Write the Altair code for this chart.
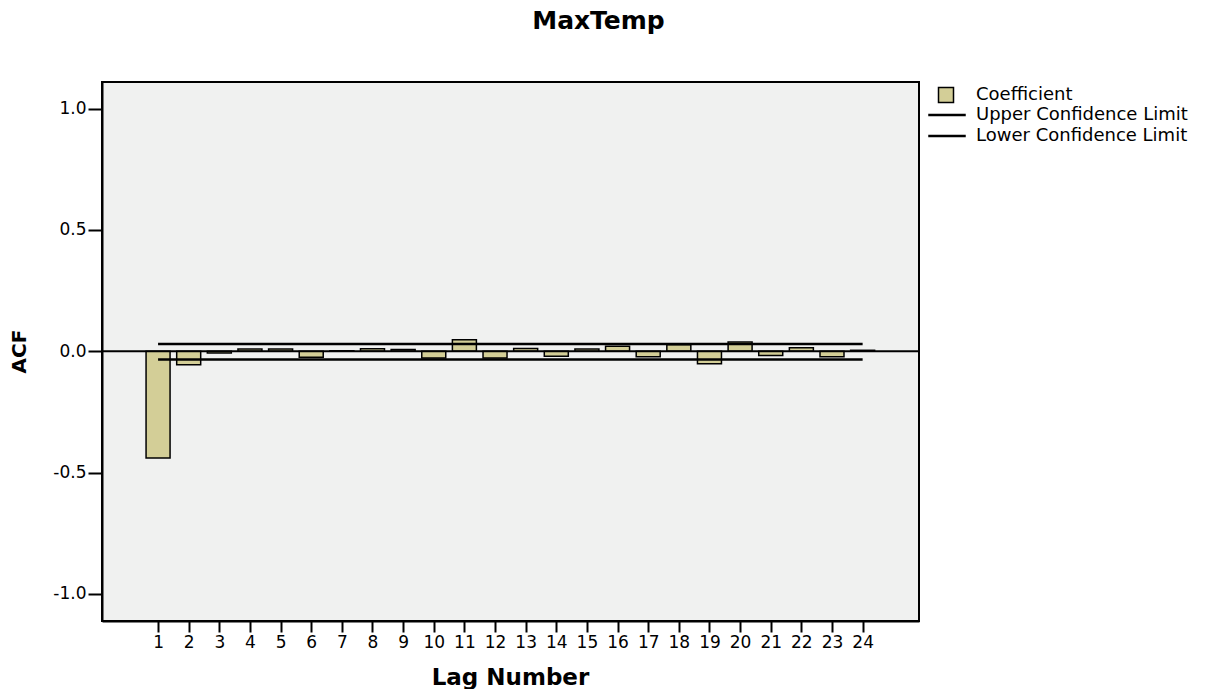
import altair as alt
import pandas as pd

# ---- data ----
lags = [1, 2, 3, 4, 5, 6, 7, 8, 9, 10, 11, 12,
        13, 14, 15, 16, 17, 18, 19, 20, 21, 22, 23, 24]
coefficient = [-0.440, -0.056, -0.007, 0.009, 0.009, -0.025, 0.002, 0.010,
               0.007, -0.028, 0.047, -0.028, 0.011, -0.021, 0.009, 0.021,
               -0.023, 0.027, -0.051, 0.038, -0.018, 0.014, -0.023, 0.004]
upper_limit = [0.030, 0.030, 0.030, 0.030, 0.030, 0.030, 0.030, 0.030,
               0.030, 0.030, 0.030, 0.030, 0.030, 0.030, 0.030, 0.030,
               0.030, 0.030, 0.030, 0.030, 0.030, 0.030, 0.030, 0.030]
lower_limit = [-0.034, -0.034, -0.034, -0.034, -0.034, -0.034, -0.034, -0.034,
               -0.034, -0.034, -0.034, -0.034, -0.034, -0.034, -0.034, -0.034,
               -0.034, -0.034, -0.034, -0.034, -0.034, -0.034, -0.034, -0.034]
zero_line = [0.0]
y_ticks = [-1.0, -0.5, 0.0, 0.5, 1.0]

bar_name = "Coefficient"
line_names = ["Upper Confidence Limit", "Lower Confidence Limit"]

bars_df = pd.DataFrame({"lag": lags, "acf": coefficient, "series": bar_name})
lines_df = pd.concat([
    pd.DataFrame({"lag": lags, "value": upper_limit, "series": line_names[0]}),
    pd.DataFrame({"lag": lags, "value": lower_limit, "series": line_names[1]}),
])
zero_df = pd.DataFrame({"value": zero_line})

FONT = "DejaVu Sans"
TAN = "#D3CE97"

x_scale = alt.Scale(domain=[-0.83, 25.84], nice=False, zero=False, padding=0)
y_scale = alt.Scale(domain=[-1.112, 1.11], nice=False, zero=False)

x_axis = alt.Axis(
    values=lags, tickCount=30, format="d", grid=False, title="Lag Number",
    labelOverlap=False,
    labelFont=FONT, labelFontSize=17, labelColor="black", labelPadding=2,
    tickColor="black", tickWidth=2, tickSize=11,
    domainColor="black", domainWidth=2,
    titleFont=FONT, titleFontSize=23, titleFontWeight="bold", titleColor="black",
    titleX=408, titleY=63, titleBaseline="alphabetic", titleAlign="center",
)
y_axis = alt.Axis(
    values=y_ticks, grid=False, title="ACF", labelOverlap=False,
    labelExpr="replace(format(datum.value, '.1f'), '\u2212', '-')",
    labelFont=FONT, labelFontSize=17, labelColor="black", labelPadding=2,
    tickColor="black", tickWidth=2, tickSize=14,
    domainColor="black", domainWidth=2,
    titleFont=FONT, titleFontSize=20, titleFontWeight="bold", titleColor="black",
    titleX=-83, titleY=269, titleAngle=270, titleBaseline="middle", titleAlign="center",
)

bars = alt.Chart(bars_df).mark_bar(size=24, stroke="black", strokeWidth=1.5).encode(
    x=alt.X("lag:Q", scale=x_scale, axis=x_axis),
    y=alt.Y("acf:Q", scale=y_scale, axis=y_axis),
    fill=alt.Fill(
        "series:N",
        scale=alt.Scale(domain=[bar_name], range=[TAN]),
        legend=alt.Legend(
            title=None, orient="none", legendX=835, legendY=4, padding=0,
            symbolType="square", symbolSize=225, symbolStrokeColor="black",
            symbolStrokeWidth=1.5, symbolFillColor=TAN, labelLimit=320,
            labelFont=FONT, labelFontSize=18, labelColor="black", labelOffset=21,
        ),
    ),
)

zero = alt.Chart(zero_df).mark_rule(color="black", strokeWidth=2).encode(
    y=alt.Y("value:Q", scale=y_scale)
)

lines = alt.Chart(lines_df).mark_line(strokeWidth=2.5).encode(
    x=alt.X("lag:Q", scale=x_scale),
    y=alt.Y("value:Q", scale=y_scale),
    stroke=alt.Stroke(
        "series:N",
        scale=alt.Scale(domain=line_names, range=["black", "black"]),
        legend=alt.Legend(
            title=None, orient="none", legendX=836, legendY=24, padding=0,
            symbolType="M-2.5,0H2.5", symbolSize=225, symbolStrokeWidth=2.5,
            rowPadding=3, labelLimit=320,
            labelFont=FONT, labelFontSize=18, labelColor="black", labelOffset=20,
        ),
    ),
)

chart = alt.layer(bars, zero, lines).resolve_legend(
    fill="independent", stroke="independent"
).properties(
    width=817,
    height=539,
    autosize=alt.AutoSizeParams(type="none"),
    padding={"left": 94, "top": 74, "right": 290, "bottom": 68},
    background="white",
    title=alt.TitleParams(
        "MaxTemp", font=FONT, fontSize=25, fontWeight="bold", color="black",
        anchor="middle", dx=88, offset=28, baseline="alphabetic",
    ),
).configure_view(
    fill="#F0F1F0", stroke="black", strokeWidth=2
)

chart.save("out.html", embed_options={"renderer": "svg", "actions": False})
